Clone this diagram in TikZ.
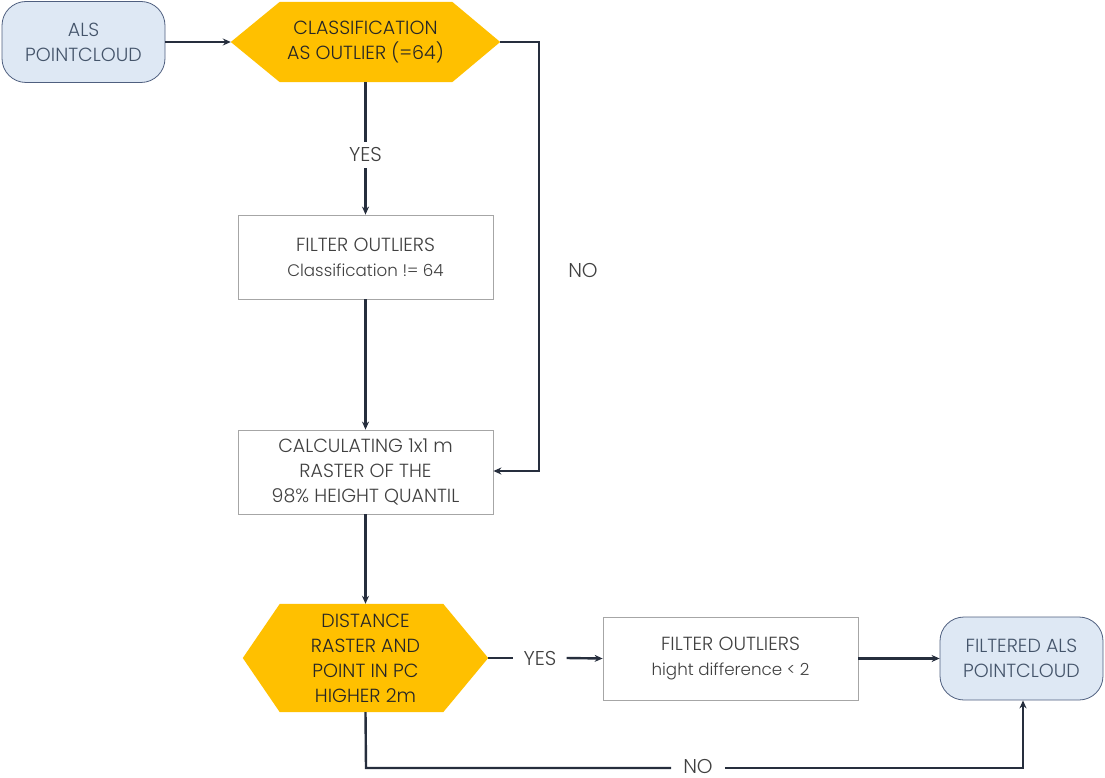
\documentclass[tikz,border=0pt]{standalone}
\usepackage{fontspec}
\setmainfont{Poppins}[UprightFont=* Light]
\usetikzlibrary{arrows.meta,calc,backgrounds}
\definecolor{termfill}{HTML}{DEE8F4}
\definecolor{termdraw}{HTML}{4F5F7F}
\definecolor{termtext}{HTML}{44546A}
\definecolor{hexfill}{HTML}{FFC000}
\definecolor{boxdraw}{HTML}{A6A6A6}
\definecolor{boxtext}{HTML}{404040}
\definecolor{linec}{HTML}{262E3D}
\newcommand{\lowline}[1]{{\fontsize{16.7}{25}\selectfont #1}}
\tikzset{
  term/.style={rectangle,rounded corners=24pt,draw=termdraw,fill=termfill,line width=0.8pt,
    text=termtext,align=center,font=\fontsize{19}{25}\selectfont,inner sep=0pt},
  hexnode/.style={rectangle,align=center,text=black!85,font=\fontsize{19}{25}\selectfont,inner sep=0pt},
  procbox/.style={rectangle,draw=boxdraw,line width=0.8pt,fill=white,text=boxtext,align=center,
    font=\fontsize{19}{25}\selectfont,inner sep=0pt},
  conn/.style={draw=linec,line width=2.4pt,-{Stealth[length=8pt,width=7pt]}},
  plainline/.style={draw=linec,line width=2.4pt},
  lbl/.style={text=boxtext,font=\fontsize{20}{20}\selectfont,inner sep=0pt},
}
\begin{document}
\begin{tikzpicture}[x=1pt,y=-1pt]
\useasboundingbox (0,0) rectangle (1105,778);
% nodes
\node[term,minimum width=163pt,minimum height=81pt] (als) at (83.5,42) {ALS\\POINTCLOUD};
\node[hexnode,minimum width=269pt,minimum height=80pt] (cls) at (365.5,42) {CLASSIFICATION\\AS OUTLIER (=64)};
\node[procbox,minimum width=255pt,minimum height=84pt] (f1) at (365.5,257) {FILTER OUTLIERS\\\lowline{Classification != 64}};
\node[procbox,minimum width=255pt,minimum height=84pt] (calc) at (365.5,472) {CALCULATING 1x1 m\\RASTER OF THE\\98\% HEIGHT QUANTIL};
\node[hexnode,minimum width=245pt,minimum height=108pt] (dist) at (365.5,658) {DISTANCE\\RASTER AND\\POINT IN PC\\HIGHER 2m};
\node[procbox,minimum width=255pt,minimum height=83pt] (f2) at (730.5,658.5) {FILTER OUTLIERS\\\lowline{hight difference < 2}};
\node[term,minimum width=163pt,minimum height=83pt] (out) at (1021.5,658.5) {FILTERED ALS\\POINTCLOUD};
% hexagon backgrounds
\begin{pgfonlayer}{background}
\fill[hexfill] (cls.west) -- ($(cls.north west)+(49,0)$) -- ($(cls.north east)+(-48,0)$) -- (cls.east)
  -- ($(cls.south east)+(-48,0)$) -- ($(cls.south west)+(49,0)$) -- cycle;
\fill[hexfill] (dist.west) -- ($(dist.north west)+(37,0)$) -- ($(dist.north east)+(-45,0)$) -- (dist.east)
  -- ($(dist.south east)+(-45,0)$) -- ($(dist.south west)+(37,0)$) -- cycle;
\end{pgfonlayer}
% labels
\node[lbl] (yes1) at (365.5,155) {YES};
\node[lbl] (no1) at (583,270) {NO};
\node[lbl] (yes2) at (540,658) {YES};
\node[lbl] (no2) at (698,766) {NO};
\coordinate (r1) at (539,42);
\coordinate (r2) at (539,471);
\coordinate (b1) at (366,768);
\coordinate (b2) at (1023,768);
% connectors
\draw[conn] (als.east) -- (cls.west);
\draw[plainline] (cls.south) -- ($(yes1.north)+(0,-6)$);
\draw[conn] ($(yes1.south)+(0,6)$) -- (f1.north);
\draw[conn] (f1.south) -- (calc.north);
\draw[conn] (cls.east) -- (r1) -- (r2) -- (calc.east |- r2);
\draw[conn] (calc.south) -- (dist.north);
\draw[plainline] (dist.east) -- ($(yes2.west)+(-10,0)$);
\draw[conn] ($(yes2.east)+(10,0)$) -- (f2.west);
\draw[conn] (f2.east) -- (out.west);
\draw[plainline] (dist.south) -- (b1) -- ($(no2.west)+(-12,2)$);
\draw[conn] ($(no2.east)+(12,2)$) -- (b2) -- (b2 |- out.south);
\end{tikzpicture}
\end{document}
